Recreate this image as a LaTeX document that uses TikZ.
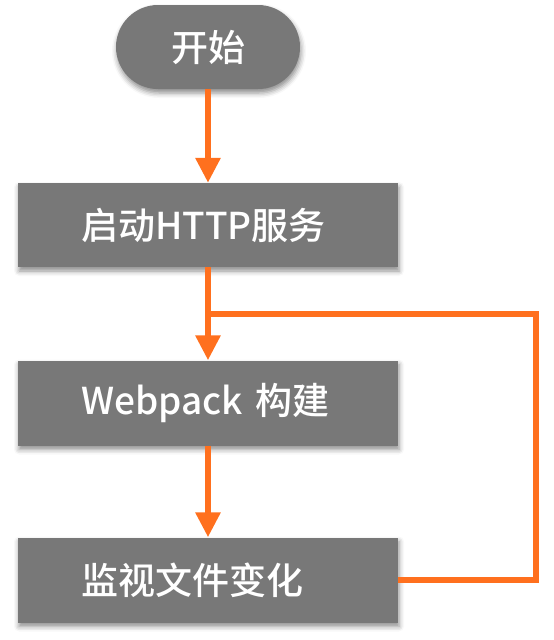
\documentclass[tikz,border=0pt]{standalone}
\usepackage{fontspec}
\newfontfamily\cjk{Noto Sans CJK SC Medium}
\usetikzlibrary{arrows.meta,shadows.blur}
\definecolor{boxgray}{HTML}{787878}
\definecolor{flow}{HTML}{FF701E}
\tikzset{
  basebox/.style={fill=boxgray, minimum height=84pt, inner ysep=0pt,
    text=white, font=\cjk\fontsize{37}{40}\selectfont,
    blur shadow={shadow xshift=1pt, shadow yshift=-4pt, shadow blur radius=5pt, shadow opacity=45}},
  procbox/.style={basebox, inner xsep=63pt, text width=254pt, align=left},
  startbox/.style={basebox, inner xsep=0pt, minimum width=184pt, rounded corners=42pt}
}
\tikzset{
  flowline/.style={draw=flow, line width=6pt, line join=miter},
  flowarrow/.style={flowline, -{Triangle[width=24pt,length=25pt]}}
}
\begin{document}
\begin{tikzpicture}[x=1pt,y=-1pt]
\useasboundingbox (0,0) rectangle (554,640);
\node[startbox] (s) at (208,47) {开始\hspace{9pt}};
\node[procbox] (b1) at (208,225) {启动HTTP服务};
\node[procbox, minimum height=85pt] (b2) at (208,403) {Webpack 构建};
\node[procbox, minimum height=85pt] (b3) at (208,580) {监视文件变化};
\coordinate (j) at (208,314);
\coordinate (r) at (536,580);
\draw[flowarrow] (s) -- (b1);
\draw[flowarrow] (b1) -- (b2);
\draw[flowarrow] (b2) -- (b3);
\draw[flowline] (b3.east) -- (r) |- (j);
\end{tikzpicture}
\end{document}
